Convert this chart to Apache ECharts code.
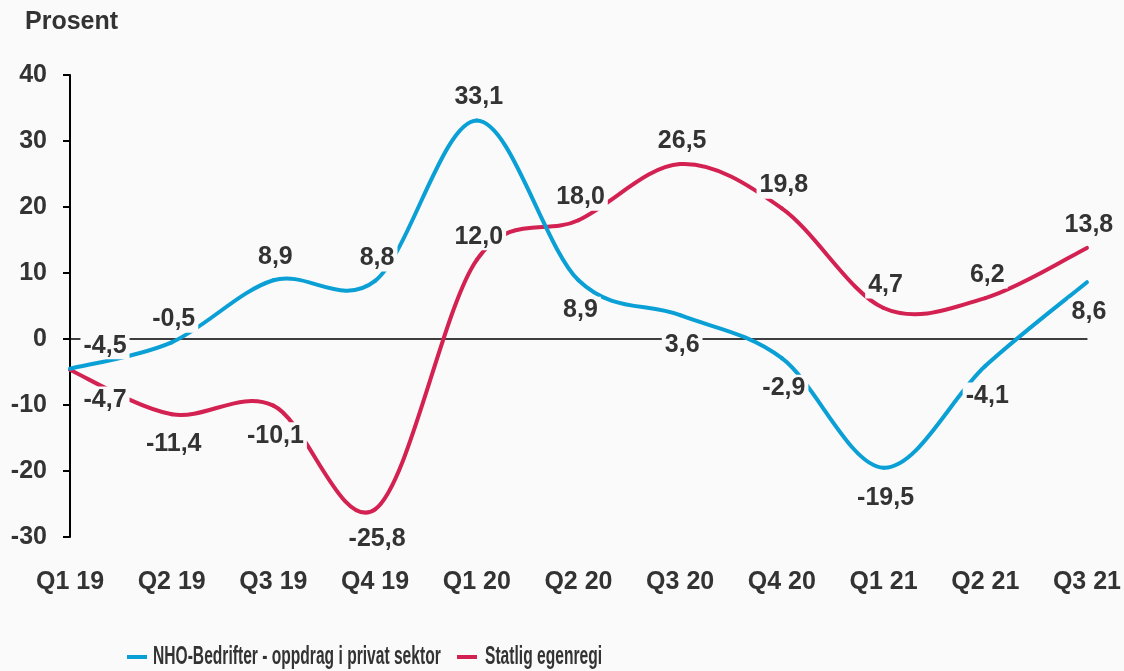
<!DOCTYPE html>
<html>
<head>
<meta charset="utf-8">
<script src="https://cdn.jsdelivr.net/npm/echarts@6/dist/echarts.min.js"></script>
<style>
    html, body { margin: 0; padding: 0; background: #fafafa; }
    #chart { width: 1124px; height: 671px; }
</style>
</head>
<body>
<div id="chart"></div>
<script>
const categories = ['Q1 19', 'Q2 19', 'Q3 19', 'Q4 19', 'Q1 20', 'Q2 20', 'Q3 20', 'Q4 20', 'Q1 21', 'Q2 21', 'Q3 21'];
const nhoValues = [-4.5, -0.5, 8.9, 8.8, 33.1, 8.9, 3.6, -2.9, -19.5, -4.1, 8.6];
const statligValues = [-4.7, -11.4, -10.1, -25.8, 12.0, 18.0, 26.5, 19.8, 4.7, 6.2, 13.8];
const seriesNames = ['NHO-Bedrifter - oppdrag i privat sektor', 'Statlig egenregi'];

// where each data label sits (top/bottom of its point)
const nhoLabelPos = ['top', 'top', 'top', 'top', 'top', 'bottom', 'bottom', 'bottom', 'bottom', 'bottom', 'bottom'];
const statligLabelPos = ['bottom', 'bottom', 'bottom', 'bottom', 'top', 'top', 'top', 'top', 'top', 'top', 'top'];

const textColor = '#333333';
const bg = '#fafafa';
const blue = '#0aa0d6';
const red = '#d32152';
const fontFamily = '"Liberation Sans", Arial, sans-serif';

const fmt = (v) => v.toFixed(1).replace('.', ',');

const buildData = (values, positions) => {
    return values.map((v, i) => {
        const pos = positions[i];
        return {
            value: v,
            label: {
                position: pos,
                distance: pos === 'top' ? 9 : 16,
                offset: i === 0 ? [35, 0] : [2, 0]
            }
        };
    });
};

// excel-like smoothed line: one bezier piece per segment, catmull-rom control points
const smoothSegment = (values, color) => (params, api) => {
    const i = params.dataIndex;
    const n = values.length;
    if (i >= n - 1) return null;
    const pt = (k) => {
        const j = Math.max(0, Math.min(n - 1, k));
        return api.coord([j, values[j]]);
    };
    const p0 = pt(i - 1), p1 = pt(i), p2 = pt(i + 1), p3 = pt(i + 2);
    return {
        type: 'bezierCurve',
        shape: {
            x1: p1[0], y1: p1[1],
            x2: p2[0], y2: p2[1],
            cpx1: p1[0] + (p2[0] - p0[0]) / 6,
            cpy1: p1[1] + (p2[1] - p0[1]) / 6,
            cpx2: p2[0] - (p3[0] - p1[0]) / 6,
            cpy2: p2[1] - (p3[1] - p1[1]) / 6
        },
        style: { stroke: color, lineWidth: 4, fill: null, lineCap: 'round' }
    };
};

const labelStyle = {
    show: true,
    formatter: (p) => fmt(p.value),
    color: textColor,
    fontFamily: fontFamily,
    fontWeight: 'bold',
    fontSize: 25,
    backgroundColor: bg,
    padding: [1, 3]
};

const legendText = (text, x) => ({
    type: 'text',
    x: x,
    y: 657,
    scaleX: 0.6,
    style: {
        text: text,
        fontFamily: fontFamily,
        fontWeight: 'bold',
        fontSize: 26,
        fill: textColor,
        verticalAlign: 'middle'
    }
});

const chart = echarts.init(document.getElementById('chart'));
chart.setOption({
    backgroundColor: bg,
    animation: false,
    title: {
        text: 'Prosent',
        left: 20,
        top: 5,
        textStyle: { color: textColor, fontFamily: fontFamily, fontWeight: 'bold', fontSize: 25 }
    },
    // condensed legend like the original (narrow font)
    graphic: [
        { type: 'rect', shape: { x: 127, y: 655, width: 20, height: 4 }, style: { fill: blue } },
        legendText(seriesNames[0], 153),
        { type: 'rect', shape: { x: 457, y: 655, width: 20, height: 4 }, style: { fill: red } },
        legendText(seriesNames[1], 485)
    ],
    grid: { left: 70, right: 36, top: 75, bottom: 134 },
    xAxis: [
        {
            type: 'category',
            data: categories,
            boundaryGap: false,
            axisLine: { show: false, onZero: false },
            axisTick: { show: false },
            axisLabel: {
                color: textColor,
                fontFamily: fontFamily,
                fontWeight: 'bold',
                fontSize: 25,
                margin: 33
            }
        },
        {
            type: 'category',
            data: categories,
            boundaryGap: false,
            position: 'bottom',
            axisLine: { show: true, onZero: true, lineStyle: { color: '#000', width: 1.5 } },
            axisTick: { show: false },
            axisLabel: { show: false }
        }
    ],
    yAxis: {
        type: 'value',
        min: -30,
        max: 40,
        interval: 10,
        splitLine: { show: false },
        axisLine: { show: true, lineStyle: { color: '#000', width: 2 } },
        axisTick: { show: true, length: 7, lineStyle: { color: '#000', width: 2 } },
        axisLabel: {
            color: textColor,
            fontFamily: fontFamily,
            fontWeight: 'bold',
            fontSize: 25,
            margin: 23
        }
    },
    series: [
        {
            name: seriesNames[1] + ' line',
            type: 'custom',
            z: 1,
            silent: true,
            renderItem: smoothSegment(statligValues, red),
            data: statligValues.map((v, i) => [i, v])
        },
        {
            name: seriesNames[0] + ' line',
            type: 'custom',
            z: 1,
            silent: true,
            renderItem: smoothSegment(nhoValues, blue),
            data: nhoValues.map((v, i) => [i, v])
        },
        {
            name: seriesNames[0],
            type: 'line',
            z: 3,
            symbol: 'circle',
            symbolSize: 1,
            itemStyle: { color: 'rgba(0,0,0,0)' },
            lineStyle: { opacity: 0 },
            label: labelStyle,
            data: buildData(nhoValues, nhoLabelPos)
        },
        {
            name: seriesNames[1],
            type: 'line',
            z: 3,
            symbol: 'circle',
            symbolSize: 1,
            itemStyle: { color: 'rgba(0,0,0,0)' },
            lineStyle: { opacity: 0 },
            label: labelStyle,
            data: buildData(statligValues, statligLabelPos)
        }
    ]
});
</script>
</body>
</html>
